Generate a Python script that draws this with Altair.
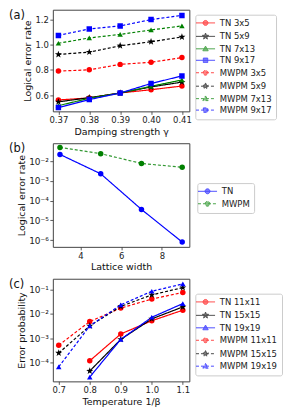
import json
import math
import altair as alt
import pandas as pd

FONT = "DejaVu Sans"

# ---------------- Panel (a) data ----------------
gamma = [0.37, 0.38, 0.39, 0.40, 0.41]
a_series = ["TN 3x5", "TN 5x9", "TN 7x13", "TN 9x17",
            "MWPM 3x5", "MWPM 5x9", "MWPM 7x13", "MWPM 9x17"]
a_tn_3x5 = [0.562, 0.578, 0.617, 0.643, 0.672]
a_tn_5x9 = [0.547, 0.580, 0.617, 0.665, 0.703]
a_tn_7x13 = [0.517, 0.575, 0.617, 0.670, 0.720]
a_tn_9x17 = [0.502, 0.565, 0.617, 0.692, 0.752]
a_mwpm_3x5 = [0.790, 0.800, 0.843, 0.860, 0.897]
a_mwpm_5x9 = [0.922, 0.940, 0.990, 1.022, 1.060]
a_mwpm_7x13 = [1.010, 1.052, 1.080, 1.115, 1.147]
a_mwpm_9x17 = [1.072, 1.123, 1.147, 1.197, 1.230]

# ---------------- Panel (b) data ----------------
widths = [3, 5, 7, 9]
b_series = ["TN", "MWPM"]
b_tn = [0.022, 0.0023, 3.6e-5, 8e-7]
b_mwpm = [0.050, 0.024, 0.0077, 0.0049]

# ---------------- Panel (c) data ----------------
temps = [0.7, 0.8, 0.9, 1.0, 1.1]
c_series = ["TN 11x11", "TN 15x15", "TN 19x19",
            "MWPM 11x11", "MWPM 15x15", "MWPM 19x19"]
c_tn_11 = [None, 1.2e-4, 1.5e-3, 5.2e-3, 0.014]
c_tn_15 = [None, 4.6e-5, 9.0e-4, 6.2e-3, 0.019]
c_tn_19 = [None, 2.6e-5, 9.0e-4, 7.2e-3, 0.026]
c_mwpm_11 = [5.2e-4, 4.8e-3, 0.017, 0.040, 0.074]
c_mwpm_15 = [2.5e-4, 3.2e-3, 0.020, 0.059, 0.117]
c_mwpm_19 = [6.8e-5, 3.2e-3, 0.023, 0.083, 0.165]

RED, BLACK, GREEN, BLUE = "#ff0000", "#000000", "#008000", "#0000ff"


def long_df(xs, series, arrays):
    rows = []
    for name, arr in zip(series, arrays):
        for x, y in zip(xs, arr):
            if y is not None:
                rows.append({"x": x, "y": y, "series": name})
    return pd.DataFrame(rows)


# marker shapes
def star_path(ro=1.35, ri=0.55):
    pts = []
    for i in range(10):
        ang = math.radians(-90 + 36 * i)
        r = ro if i % 2 == 0 else ri
        pts.append((r * math.cos(ang), r * math.sin(ang)))
    return "M" + "L".join(f"{px:.3f},{py:.3f}" for px, py in pts) + "Z"


STAR = star_path()
PLOT_SHAPE = {"o": "circle", "*": STAR, "^": "triangle-up", "s": "square"}
LINE = "M-3.9,0H3.9"
LEG_SHAPE = {
    "o": LINE + "M-1,0A1,1,0,1,1,1,0A1,1,0,1,1,-1,0Z",
    "*": LINE + STAR,
    "^": LINE + "M0,-1.1L1.1,0.8H-1.1Z",
    "s": LINE + "M-0.9,-0.9H0.9V0.9H-0.9Z",
}


def panel(df, series, colors, markers, dashed, xscale, xaxis, yscale, yaxis,
          w, h, leg_x, leg_y, label):
    dashes = [[3, 2] if d else [1, 0] for d in dashed]
    sop = [0.8 if d else 1.0 for d in dashed]
    legend = alt.Legend(
        title=None, orient="none", legendX=leg_x, legendY=leg_y,
        symbolSize=24, symbolStrokeWidth=1, labelOffset=10, symbolOffset=2,
    )
    x = alt.X("x:Q", scale=xscale, axis=xaxis)
    y = alt.Y("y:Q", scale=yscale, axis=yaxis)
    cscale = alt.Scale(domain=series, range=colors)
    base = alt.Chart(df)
    lines = base.mark_line(strokeWidth=1.2, clip=True).encode(
        x=x, y=y,
        color=alt.Color("series:N", scale=cscale, legend=None),
        strokeDash=alt.StrokeDash("series:N", scale=alt.Scale(domain=series, range=dashes), legend=None),
        strokeOpacity=alt.StrokeOpacity("series:N", scale=alt.Scale(domain=series, range=sop), legend=None),
    )
    pts = base.mark_point(filled=True, opacity=1, size=30, clip=True).encode(
        x=x, y=y,
        color=alt.Color("series:N", scale=cscale, legend=None),
        shape=alt.Shape("series:N", scale=alt.Scale(domain=series, range=[PLOT_SHAPE[m] for m in markers]), legend=None),
    )
    leg = base.transform_filter("false").mark_point(filled=True, strokeWidth=1).encode(
        fill=alt.Fill("series:N", scale=cscale, legend=legend),
        stroke=alt.Stroke("series:N", scale=cscale, legend=legend),
        shape=alt.Shape("series:N", scale=alt.Scale(domain=series, range=[LEG_SHAPE[m] for m in markers]), legend=legend),
        strokeDash=alt.StrokeDash("series:N", scale=alt.Scale(domain=series, range=dashes), legend=legend),
    )
    lab = alt.Chart(pd.DataFrame({"t": [label]})).mark_text(
        font=FONT, fontSize=11.5, align="left", baseline="top", color="#111"
    ).encode(text="t:N", x=alt.value(-44), y=alt.value(0))
    return alt.layer(lines, pts, leg, lab).resolve_scale(
        color="independent", shape="independent", strokeDash="independent",
        fill="independent", stroke="independent",
    ).properties(width=w, height=h)


# ---------------- build panels ----------------
df_a = long_df(gamma, a_series, [a_tn_3x5, a_tn_5x9, a_tn_7x13, a_tn_9x17,
                                 a_mwpm_3x5, a_mwpm_5x9, a_mwpm_7x13, a_mwpm_9x17])
chart_a = panel(
    df_a, a_series,
    [RED, BLACK, GREEN, BLUE, RED, BLACK, GREEN, BLUE],
    ["o", "*", "^", "s", "o", "*", "^", "s"],
    [False] * 4 + [True] * 4,
    alt.Scale(domain=[0.3682, 0.4124], nice=False, zero=False),
    alt.Axis(values=gamma, format=".2f", title="Damping strength γ"),
    alt.Scale(domain=[0.472, 1.275], nice=False, zero=False),
    alt.Axis(values=[0.6, 0.8, 1.0, 1.2], format=".1f", title="Logical error rate"),
    137, 102, 143, 5, "(a)",
)

df_b = long_df(widths, b_series, [b_tn, b_mwpm])
sup = json.dumps(["⁰", "¹", "²", "³", "⁴", "⁵", "⁶"], ensure_ascii=False)
log_expr = f"'10⁻' + {sup}[round(-log(datum.value)/LN10)]"
chart_b = panel(
    df_b, b_series, [BLUE, GREEN], ["o", "o"], [False, True],
    alt.Scale(domain=[2.65, 9.35], nice=False, zero=False),
    alt.Axis(values=[4, 6, 8], format="d", title="Lattice width"),
    alt.Scale(type="log", domain=[10 ** -6.34, 10 ** -1.09], nice=False),
    alt.Axis(values=[1e-6, 1e-5, 1e-4, 1e-3, 1e-2], labelExpr=log_expr,
             labelFontSize=9, title="Logical error rate"),
    137, 104, 145, 40, "(b)",
)

df_c = long_df(temps, c_series, [c_tn_11, c_tn_15, c_tn_19, c_mwpm_11, c_mwpm_15, c_mwpm_19])
chart_c = panel(
    df_c, c_series, [RED, BLACK, BLUE, RED, BLACK, BLUE],
    ["o", "*", "^", "o", "*", "^"],
    [False] * 3 + [True] * 3,
    alt.Scale(domain=[0.681, 1.121], nice=False, zero=False),
    alt.Axis(values=temps, format=".1f", title="Temperature 1/β"),
    alt.Scale(type="log", domain=[10 ** -4.76, 10 ** -0.57], nice=False),
    alt.Axis(values=[1e-4, 1e-3, 1e-2, 1e-1], labelExpr=log_expr,
             labelFontSize=9, title="Error probability"),
    137, 103, 143, 15, "(c)",
)

chart = alt.vconcat(chart_a, chart_b, chart_c, spacing=6).resolve_scale(
    color="independent", shape="independent", strokeDash="independent",
    strokeOpacity="independent", fill="independent", stroke="independent",
).configure_view(
    stroke="#444", strokeWidth=1
).configure_axis(
    grid=False, domain=False, tickSize=3, tickColor="#333", tickWidth=0.8,
    labelFont=FONT, labelFontSize=8.5, labelColor="#222", labelPadding=1.5,
    titleFont=FONT, titleFontSize=9.5, titleFontWeight="normal", titleColor="#111",
    titlePadding=2,
).configure_legend(
    labelFont=FONT, labelFontSize=8.5, labelColor="#222", padding=4,
    rowPadding=2.5, strokeColor="#ccc", fillColor="white", cornerRadius=2,
).properties(padding=0)

chart.save("out.html", embed_options={"renderer": "svg", "actions": False})
